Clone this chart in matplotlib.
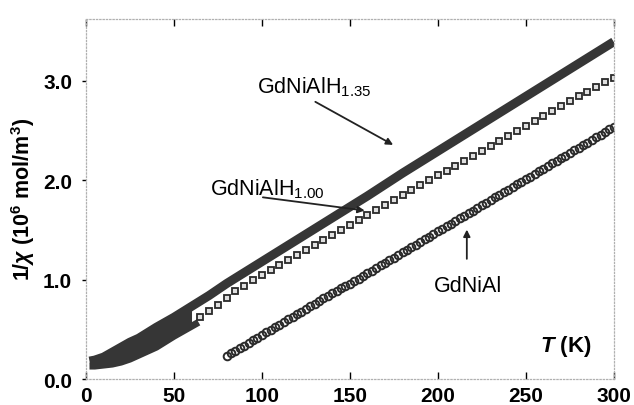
import numpy as np
import matplotlib
matplotlib.use("Agg")
import matplotlib.pyplot as plt

plt.rcParams['font.family'] = ['Liberation Sans', 'DejaVu Sans']
plt.rcParams['mathtext.fontset'] = 'custom'
plt.rcParams['mathtext.rm'] = 'Liberation Sans'
plt.rcParams['mathtext.bf'] = 'Liberation Sans:bold'
plt.rcParams['mathtext.it'] = 'Liberation Sans:italic'
plt.rcParams['mathtext.bfit'] = 'Liberation Sans:italic:bold'

# GdNiAlH1.35 (thick dark band)
T_h135 = [2, 5, 10, 15, 20, 25, 30, 40, 50, 60, 70, 80, 90, 100, 120, 140,
          160, 180, 200, 220, 240, 260, 280, 300]
chi_h135 = [0.18, 0.19, 0.22, 0.27, 0.32, 0.37, 0.41, 0.52, 0.62, 0.73, 0.84,
            0.96, 1.07, 1.18, 1.40, 1.62, 1.84, 2.07, 2.29, 2.51, 2.73, 2.95,
            3.17, 3.39]

# GdNiAlH1.00 low-T (dense points, merged with the H1.35 band)
T_h100_low = [2, 5, 10, 15, 20, 25, 30, 40, 50, 60, 64]
chi_h100_low = [0.13, 0.13, 0.14, 0.15, 0.17, 0.20, 0.24, 0.32, 0.43, 0.53,
                0.57]

# GdNiAlH1.00 squares
T_h100 = list(range(65, 301, 5))
chi_h100 = [0.62, 0.68, 0.74, 0.81, 0.88, 0.94, 1.00, 1.05, 1.10, 1.15, 1.20,
            1.25, 1.30, 1.35, 1.40, 1.45, 1.50, 1.55, 1.60, 1.65, 1.70, 1.75,
            1.80, 1.85, 1.90, 1.95, 2.00, 2.05, 2.09, 2.14, 2.19, 2.24, 2.29,
            2.34, 2.39, 2.44, 2.49, 2.54, 2.59, 2.64, 2.69, 2.74, 2.79, 2.84,
            2.89, 2.94, 2.99, 3.03]

# GdNiAl
T_al = list(np.arange(80, 300.1, 2.5))
chi_al = [0.23, 0.26, 0.28, 0.31, 0.33, 0.36, 0.39, 0.41, 0.44, 0.47,
          0.49, 0.52, 0.54, 0.57, 0.60, 0.62, 0.65, 0.67, 0.70, 0.73,
          0.75, 0.78, 0.81, 0.83, 0.86, 0.88, 0.91, 0.94, 0.96, 0.99,
          1.01, 1.04, 1.07, 1.09, 1.12, 1.15, 1.17, 1.20, 1.22, 1.25,
          1.28, 1.30, 1.33, 1.35, 1.38, 1.41, 1.43, 1.46, 1.49, 1.51,
          1.54, 1.56, 1.59, 1.62, 1.64, 1.67, 1.69, 1.72, 1.75, 1.77,
          1.80, 1.83, 1.85, 1.88, 1.90, 1.93, 1.96, 1.98, 2.01, 2.03,
          2.06, 2.09, 2.11, 2.14, 2.17, 2.19, 2.22, 2.24, 2.27, 2.30,
          2.32, 2.35, 2.37, 2.40, 2.43, 2.45, 2.48, 2.51, 2.53]

xticks = [0, 50, 100, 150, 200, 250, 300]
yticks = [0.0, 1.0, 2.0, 3.0]

fig = plt.figure(figsize=(6.34, 4.06), dpi=100)
ax = fig.add_axes([0.1356, 0.064, 0.8324, 0.887])

dark = '#363636'
# fill between the two hydride series where they share temperatures (<= 60 K)
ax.fill_between(T_h100_low[:10], chi_h100_low[:10], chi_h135[:10],
                color=dark, lw=0)
ax.plot(T_h100_low, chi_h100_low, '-', color=dark, lw=5, solid_capstyle='butt')
ax.plot(T_h135, chi_h135, '-', color=dark, lw=6.5, solid_capstyle='butt')
ax.plot(T_h100, chi_h100, 's', ms=5, mfc='#e0e0e0', mec='#2a2a2a', mew=1.3)
ax.plot(T_al, chi_al, 'o', ms=5.5, mfc='none', mec='#2a2a2a', mew=1.4)

ax.set_xlim(0, 300)
ax.set_ylim(0, 3.62)
ax.set_xticks(xticks)
ax.set_yticks(yticks)
ax.set_xticklabels([str(v) for v in xticks])
ax.set_yticklabels(['%.1f' % v for v in yticks])
for lab in ax.get_xticklabels() + ax.get_yticklabels():
    lab.set_fontweight('bold')
    lab.set_fontsize(15)
ax.tick_params(axis='x', direction='in', length=5, width=1, top=True, pad=5)
ax.tick_params(axis='y', direction='out', length=3, width=1, pad=7)

for s in ax.spines.values():
    s.set_color('#b0b0b0')
    s.set_linestyle(':')
    s.set_linewidth(0.9)

ax.set_ylabel(r'1/$\mathbfit{\chi}$ (10$^{\mathbf{6}}$ mol/m$^{\mathbf{3}}$)',
              fontsize=15.5, fontweight='bold', labelpad=4)
ax.text(258, 0.28, r'$\mathbfit{T}$ (K)', fontsize=16, fontweight='bold',
        va='baseline')

ax.text(97, 2.88, r'GdNiAlH$_{\mathrm{1.35}}$', fontsize=15.5, va='baseline')
ax.text(70.5, 1.86, r'GdNiAlH$_{\mathrm{1.00}}$', fontsize=15.5, va='baseline')
ax.text(198, 0.88, 'GdNiAl', fontsize=15.5, va='baseline')

arr = dict(arrowstyle='-|>', color='#222222', lw=1.3, mutation_scale=10)
ax.annotate('', xy=(176, 2.34), xytext=(129, 2.80), arrowprops=arr)
ax.annotate('', xy=(160, 1.69), xytext=(99, 1.83), arrowprops=arr)
ax.annotate('', xy=(216.5, 1.53), xytext=(216.5, 1.18), arrowprops=arr)

fig.savefig('out.png', dpi=100)
